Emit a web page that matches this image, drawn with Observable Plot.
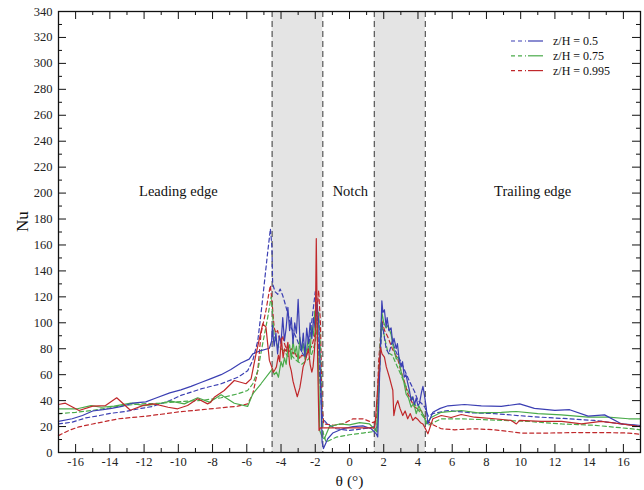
<!DOCTYPE html>
<html><head><meta charset="utf-8">
<script src="https://cdn.jsdelivr.net/npm/d3@7"></script>
<script src="https://cdn.jsdelivr.net/npm/@observablehq/plot@0.6"></script>
<style>
body{margin:0;background:#fff;}
#wrap{position:relative;width:644px;height:490px;font-family:"Liberation Serif",serif;}
#wrap svg, #wrap svg text{font-family:"Liberation Serif",serif !important;}
#legend{position:absolute;left:505px;top:32px;}
</style></head>
<body><div id="wrap"><div id="legend"></div></div>
<script>
// [theta (deg), Nu]
const blueSolid = [[-17,24],[-16.2,26],[-15.6,28.5],[-15,32],[-14.4,33],[-13.9,34],[-13.3,35.5],[-12.7,38],[-11.9,39],[-11.3,42],[-10.5,46],[-9.85,48.3],[-9.26,51],[-8.68,54],[-8.09,57],[-7.5,60],[-6.93,64],[-6.34,69],[-5.86,72],[-5.65,76],[-5.17,78.6],[-4.68,80.4],
[-4.55,86],[-4.5,98],[-4.45,88],[-4.4,82],[-4.3,92],[-4.2,76],[-4.1,90],[-4.0,84],[-3.9,104],[-3.8,86],[-3.7,96],[-3.6,112],[-3.5,94],[-3.4,104],[-3.3,84],[-3.2,100],[-3.1,92],[-3.0,118],[-2.9,88],[-2.8,78],[-2.7,92],[-2.6,74],[-2.5,96],[-2.4,84],[-2.3,100],[-2.2,88],[-2.1,104],[-2.0,96],[-1.9,116],[-1.8,100],[-1.7,60],[-1.6,8],[-1.52,3],
[-1.27,10.6],[-0.98,15],[-0.39,18.3],[0.2,20],[0.78,20.5],[1.27,18.3],[1.56,14.4],[1.65,12],
[1.89,117],[1.95,108],[2.04,110],[2.14,97],[2.2,104],[2.3,94],[2.43,96],[2.53,84],[2.6,88],[2.73,80],[2.8,84],[2.9,72],[3.02,66],[3.1,70],[3.2,58],[3.3,60],[3.41,53],[3.5,48],[3.6,40],[3.7,43],[3.8,37],[3.9,42],[4.0,36],[4.09,38],[4.2,46],[4.29,51],[4.38,44],[4.48,35],[4.58,22],
[4.87,31],[5.3,34],[5.75,36],[6.72,37],[7.7,36],[8.87,35.5],[9.94,37.5],[10.8,34],[12,32.5],[12.86,33],[13.94,28],[14.9,29],[15.9,22],[16.9,21],[17,20.8]];

const blueDashed = [[-17,22],[-16.2,23.4],[-15.4,26.7],[-14.6,28.5],[-13.9,30.3],[-13.1,31.6],[-12.3,33.7],[-11.5,35.5],[-10.5,40],[-9.85,44],[-8.68,49],[-7.5,53],[-6.53,58],[-5.95,63],[-5.65,71],[-5.36,86],[-5.17,107],[-4.98,130],[-4.8,152],[-4.62,172.5],[-4.53,158],[-4.49,130],[-4.35,124],[-4.19,122],[-4.05,126],[-3.9,121],[-3.81,117],[-3.6,107],[-3.4,96],[-3.22,91.5],[-3.03,86],[-2.88,80],[-2.73,76],[-2.54,73],[-2.34,86],[-2.15,107],[-2.0,124],[-1.9,110],[-1.75,60],[-1.6,28],[-1.56,26],[-1.3,22],[-0.78,18.3],[0,17],[0.78,18.3],[1.2,19],[1.46,20],[1.6,16],[1.75,60],[1.9,100],[2.0,92],[2.14,80],[2.3,76],[2.5,86],[2.7,78],[3.0,70],[3.2,64],[3.5,55],[3.8,47],[4.0,40],[4.2,38],[4.4,35],[4.6,28],[4.87,30],[5.75,32.4],[7.1,30.6],[8.48,30],[9.84,28.5],[11.2,27.2],[12.8,26],[14.3,24.7],[15.9,22],[17,20.5]];

const greenSolid = [[-17,33.7],[-15.9,33.7],[-15.1,36.2],[-14.5,34.9],[-13.75,35.7],[-12.77,38],[-12.0,36.2],[-11.4,37],[-10.43,39.6],[-9.65,37.5],[-8.87,42.2],[-8.19,38.8],[-7.5,44.5],[-6.73,38],[-5.95,35.5],[-5.65,45.2],[-5.17,53],[-4.58,63.2],
[-4.5,64.6],[-4.4,60],[-4.27,62],[-4.15,58],[-4.0,70],[-3.9,66],[-3.8,73],[-3.7,68],[-3.6,80],[-3.5,83],[-3.4,72],[-3.3,86],[-3.2,76],[-3.1,82],[-3.0,70],[-2.9,89],[-2.8,78],[-2.7,84],[-2.6,72],[-2.5,80],[-2.4,88],[-2.3,76],[-2.22,96.6],[-2.1,90],[-2.03,109],[-1.9,98],[-1.8,60],[-1.74,17],[-1.59,11.8],[-1.47,10.6],[-1.17,20],[-0.59,22],[0,21.3],[0.59,23],[1.17,22],[1.46,18],[1.6,16],
[1.89,108],[2.0,100],[2.14,96],[2.25,98],[2.43,91],[2.55,82],[2.73,72],[2.85,74],[3.02,62],[3.15,56],[3.31,45],[3.45,42],[3.6,35],[3.75,38],[3.9,30],[4.05,36],[4.19,32],[4.35,28],[4.48,22],[4.77,27],[5.36,31],[6.53,32.4],[7.5,30.6],[8.87,31],[9.75,31.6],[11.0,30],[12.37,29],[13.94,27.2],[15.1,27.2],[16.3,26],[17,26]];

const greenDashed = [[-17,30],[-16,31],[-15,32.5],[-14,34.5],[-13.36,36],[-12.19,37.5],[-11.0,38],[-9.85,39.3],[-8.68,40.1],[-7.5,42.2],[-6.53,45.2],[-5.95,47.8],[-5.65,53],[-5.36,63],[-5.07,84],[-4.78,104],[-4.58,120],[-4.5,108],[-4.4,90],[-4.3,86],[-4.2,82],[-4.0,80],[-3.8,78],[-3.6,74],[-3.4,75],[-3.2,72],[-3.0,70],[-2.8,68],[-2.6,70],[-2.4,72],[-2.2,76],[-2.0,85],[-1.9,95],[-1.8,108],[-1.7,80],[-1.6,18],[-1.37,8],[-0.78,11.8],[0,13.7],[0.78,15],[1.46,16.2],[1.6,20],[1.75,70],[1.85,100],[2.0,92],[2.24,77],[2.5,75],[3.0,60],[3.5,45],[4.0,33],[4.4,26],[4.6,21],[5.36,26],[6.5,26],[8.5,25],[10.4,24],[12.4,22],[14.3,21],[16.3,18.5],[17,17.5]];

const redSolid = [[-17,37],[-16.6,38],[-15.8,32.4],[-15.0,35.7],[-14.25,36.2],[-13.6,42.2],[-12.8,32.6],[-12.0,36.5],[-11.4,37.5],[-10.6,34.9],[-10.04,33.7],[-9.46,36.2],[-8.87,41.4],[-8.29,37.5],[-8.1,38.8],[-7.9,42.6],[-7.32,47.8],[-6.73,55.5],[-6.05,53],[-5.75,56.8],[-5.46,76],[-5.07,99.2],[-4.88,96.6],[-4.68,71],[-4.54,65.8],
[-4.45,62],[-4.35,64],[-4.27,66],[-4.15,75],[-4.08,70],[-3.98,88],[-3.88,73],[-3.8,80],[-3.69,78],[-3.6,85],[-3.5,68],[-3.4,63],[-3.3,55],[-3.2,50],[-3.05,43],[-2.9,50],[-2.8,58],[-2.71,66],[-2.6,70],[-2.52,74],[-2.4,80],[-2.3,68],[-2.2,62],[-2.13,66],[-2.05,78],[-2.0,90],[-1.94,165],[-1.86,70],[-1.78,17],[-1.7,19],[1.46,19],[1.5,22],
[1.81,81],[1.9,76],[2.04,73.5],[2.15,66],[2.33,58],[2.45,52],[2.53,48],[2.59,28.5],[2.7,36],[2.82,40],[2.95,34],[3.11,28.5],[3.25,32],[3.4,26],[3.55,30],[3.7,24.7],[3.85,27],[4.0,25.4],[4.15,23],[4.29,22],[4.45,18],[4.58,14.4],[4.87,26],[5.36,28.5],[5.94,27],[6.53,29.3],[7.3,27.2],[8.48,26],[9.45,24.7],[9.75,22],[9.94,24.7],[11.2,24],[12.4,24],[13.55,22],[14.7,24],[15.9,22],[17,20]];

const redDashed = [[-17,13],[-16.4,17],[-15.8,19.8],[-15.0,22],[-14.25,24],[-13.5,26],[-12.7,27],[-11.9,28],[-11.0,29.5],[-9.85,31.5],[-8.68,32.9],[-7.5,34.5],[-6.53,35.7],[-5.95,37.5],[-5.65,45.2],[-5.36,63],[-5.17,91.5],[-4.88,109.5],[-4.68,125],[-4.62,128.8],[-4.5,112],[-4.4,96],[-4.3,92],[-4.2,94],[-4.1,88],[-4.0,85],[-3.9,90],[-3.8,84],[-3.7,80],[-3.6,82],[-3.5,78],[-3.4,80],[-3.3,76],[-3.2,78],[-3.1,74],[-3.0,76],[-2.9,72],[-2.8,75],[-2.6,74],[-2.4,78],[-2.2,82],[-2.0,92],[-1.9,110],[-1.8,125],[-1.7,100],[-1.6,35],[-1.5,22],[-0.9,21],[-0.39,22],[0.2,26],[0.78,26],[1.37,23],[1.5,24],[1.6,28],[1.7,70],[1.89,101.8],[2.05,94],[2.24,89],[2.5,80],[2.82,72],[3.02,62],[3.2,55],[3.41,45],[3.6,40],[3.8,35],[4.2,32],[4.48,25],[4.77,22],[5.36,18.3],[6.14,17.5],[7.3,18.3],[8.48,17.5],[10.04,15],[11.6,15],[13.2,15.4],[14.7,15.4],[16.3,15],[17,14]];

const seriesNames = ["z/H = 0.5","z/H = 0.75","z/H = 0.995"];
const seriesColors = ["#3b3fb3","#4aab4a","#c0282b"];
const shadeStart = [-4.52, 1.45];
const shadeEnd = [-1.56, 4.43];
const regionLabels = ["Leading edge","Notch","Trailing edge"];
const regionX = [-10, 0.05, 10.7];
const regionY = [201, 201, 201];
const xMajor = d3.range(-16, 17, 2);
const xMinor = d3.range(-17, 18, 1).filter(v => v % 2 !== 0);
const yMajor = d3.range(0, 341, 20);
const yMinor = d3.range(10, 340, 20);

const W = 644, H = 490, mT = 11, mB = 38, mL = 58, mR = 4;
const ph = H - mT - mB, pw = W - mL - mR;

const lines = [
  {data: redDashed, c: 2, dash: "4,3"},
  {data: greenDashed, c: 1, dash: "4,3"},
  {data: blueDashed, c: 0, dash: "4,3"},
  {data: greenSolid, c: 1, dash: null},
  {data: blueSolid, c: 0, dash: null},
  {data: redSolid, c: 2, dash: null}
];

const chart = Plot.plot({
  width: W, height: H,
  marginTop: mT, marginBottom: mB, marginLeft: mL, marginRight: mR,
  style: {fontFamily: '"Liberation Serif", serif', fontSize: "12.5px", color: "#222", background: "white", overflow: "visible"},
  x: {domain: [-17, 17], ticks: xMajor, tickSize: 0, tickPadding: 5, label: null, tickFormat: d => String(d)},
  y: {domain: [0, 340], ticks: yMajor, tickSize: 0, tickPadding: 6, label: null},
  marks: [
    Plot.rect(shadeStart.map((s, i) => ({x1: s, x2: shadeEnd[i]})), {x1: "x1", x2: "x2", fill: "#e4e4e4"}),
    Plot.ruleX(shadeStart.concat(shadeEnd), {stroke: "#555", strokeWidth: 1.2, strokeDasharray: "6,4"}),
    ...lines.map(l => Plot.line(l.data, {x: d => d[0], y: d => d[1], stroke: seriesColors[l.c], strokeWidth: 1.2, strokeDasharray: l.dash, curve: "linear"})),
    Plot.text(regionLabels, {x: (d, i) => regionX[i], y: (d, i) => regionY[i], text: d => d, fontSize: 14.5, fill: "#111"}),
    // inward ticks on all four sides
    Plot.tickX(xMajor, {x: d => d, insetTop: ph - 8, stroke: "#111"}),
    Plot.tickX(xMinor, {x: d => d, insetTop: ph - 4, stroke: "#111"}),
    Plot.tickX(xMajor, {x: d => d, insetBottom: ph - 8, stroke: "#111"}),
    Plot.tickX(xMinor, {x: d => d, insetBottom: ph - 4, stroke: "#111"}),
    Plot.tickY(yMajor, {y: d => d, insetRight: pw - 8, stroke: "#111"}),
    Plot.tickY(yMinor, {y: d => d, insetRight: pw - 4, stroke: "#111"}),
    Plot.tickY(yMajor, {y: d => d, insetLeft: pw - 8, stroke: "#111"}),
    Plot.tickY(yMinor, {y: d => d, insetLeft: pw - 4, stroke: "#111"}),
    Plot.frame({stroke: "#111", strokeWidth: 1.3}),
    // axis titles
    Plot.text(["θ (°)"], {frameAnchor: "bottom", dy: 29, text: d => d, fontSize: 15.5, fill: "#111", lineAnchor: "middle"}),
    Plot.text(["Nu"], {frameAnchor: "left", dx: -36, rotate: -90, text: d => d, fontSize: 17, fill: "#111"})
  ]
});
document.getElementById("wrap").prepend(chart);

// Legend
const lg = d3.select("#legend").append("svg").attr("width", 110).attr("height", 50);
seriesNames.forEach((name, i) => {
  const y = 9 + i * 14.8;
  lg.append("line").attr("x1", 6).attr("x2", 21).attr("y1", y).attr("y2", y)
    .attr("stroke", seriesColors[i]).attr("stroke-width", 1.2).attr("stroke-dasharray", "4,3");
  lg.append("line").attr("x1", 23).attr("x2", 38).attr("y1", y).attr("y2", y)
    .attr("stroke", seriesColors[i]).attr("stroke-width", 1.2);
  lg.append("text").attr("x", 48).attr("y", y + 4).text(name)
    .attr("font-family", '"Liberation Serif", serif').attr("font-size", 12).attr("fill", "#111");
});
</script>
</body></html>
